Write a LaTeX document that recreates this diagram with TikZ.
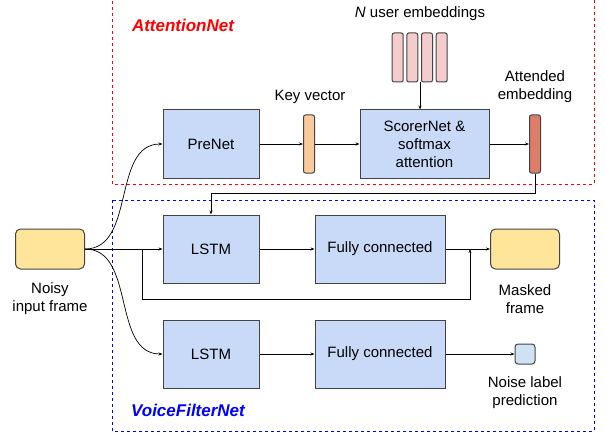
\documentclass[tikz,border=0pt]{standalone}
\usepackage{fontspec}
\setmainfont{Liberation Sans}
\usetikzlibrary{arrows.meta}

\definecolor{boxblue}{HTML}{C9DAF8}
\definecolor{boxedge}{HTML}{434343}
\definecolor{frameyellow}{HTML}{FFE599}
\definecolor{keyorange}{HTML}{F9CB9C}
\definecolor{embpink}{HTML}{F4CCCC}
\definecolor{attred}{HTML}{DD7E6B}
\definecolor{noiseblue}{HTML}{CFE2F3}

\tikzset{
  block/.style={draw=boxedge, fill=boxblue, line width=1pt, minimum width=96pt, minimum height=68pt,
    inner sep=0pt, align=center, font=\fontsize{15}{18}\selectfont},
  wideblock/.style={block, minimum width=130pt},
  framebox/.style={draw=boxedge, fill=frameyellow, line width=1pt, rounded corners=5pt,
    minimum width=69pt, minimum height=40pt, inner sep=0pt},
  bar/.style={draw=boxedge, line width=1pt, rounded corners=2pt, minimum width=11pt,
    minimum height=58pt, inner sep=0pt},
  caption/.style={align=center, inner sep=0pt, font=\fontsize{15}{18}\selectfont},
  arr/.style={-{Stealth[length=4pt,width=3pt]}, line width=0.7pt},
  netname/.style={font=\fontsize{17}{20}\selectfont\bfseries\itshape, inner sep=0pt}
}

\begin{document}
\begin{tikzpicture}[x=1pt,y=-1pt]

\useasboundingbox (0,0) rectangle (606,436);

% the two sub-networks
\draw[red, dashed, line width=0.7pt] (112,-5) rectangle (594,184);
\draw[blue, dashed, line width=0.7pt] (112,200) rectangle (594,431);
\node[netname, red] (attname) at (183,25) {AttentionNet};
\node[netname, blue] (vfname) at (188,410) {VoiceFilterNet};

% input and outputs
\node[framebox] (input) at (50,249) {};
\node[caption, below=13pt] (inputtext) at (input.south) {Noisy\\input frame};
\node[framebox] (masked) at (525,249) {};
\node[caption, below=15pt] (maskedtext) at (masked.south) {Masked\\frame};
\node[draw=boxedge, fill=noiseblue, line width=1pt, rounded corners=3pt, minimum size=20pt,
  inner sep=0pt] (noise) at (525,354) {};
\node[caption, below=12pt] (noisetext) at (noise.south) {Noise label\\prediction};

% attention part
\node[block] (prenet) at (211,144) {PreNet};
\node[bar, fill=keyorange] (key) at (309,144) {};
\node[caption] (keytext) at (310,97) {Key vector};
\node[block, minimum width=129pt] (scorer) at (424.5,144) {ScorerNet \&\\softmax\\attention};
\foreach \i/\x in {1/397.7,2/412.3,3/427,4/441.7}
  \node[bar, fill=embpink, minimum height=49pt] (emb\i) at (\x,57.5) {};
\node[caption] (embtext) at (420,14) {\textit{N} user embeddings};
\node[bar, fill=attred] (att) at (535,144) {};
\node[caption] (atttext) at (535,87) {Attended\\embedding};

% voice filter part
\node[block] (lstma) at (211,249) {LSTM};
\node[wideblock] (fca) at (380,249) {Fully connected};
\node[block] (lstmb) at (211,354) {LSTM};
\node[wideblock] (fcb) at (380,354) {Fully connected};

\coordinate (embout) at (420,82);
\coordinate (split) at (142,249);
\coordinate (join) at (470,249);

\draw[arr] (input.east) to[out=0, in=180] (prenet.west);
\draw[arr] (input.east) -- (lstma.west);
\draw[arr] (input.east) to[out=0, in=180] (lstmb.west);
\draw[arr] (prenet) -- (key);
\draw[arr] (key) -- (scorer);
\draw[arr] (embout) -- (scorer.north -| embout);
\draw[arr] (scorer) -- (att);
\draw[arr] (att.south) -- ++(0,20) -| (lstma.north);
\draw[arr] (lstma) -- (fca);
\draw[arr] (fca) -- (masked);
\draw[arr] (split) -- ++(0,50) -| (join);
\draw[arr] (lstmb) -- (fcb);
\draw[arr] (fcb) -- (noise);

\end{tikzpicture}
\end{document}
